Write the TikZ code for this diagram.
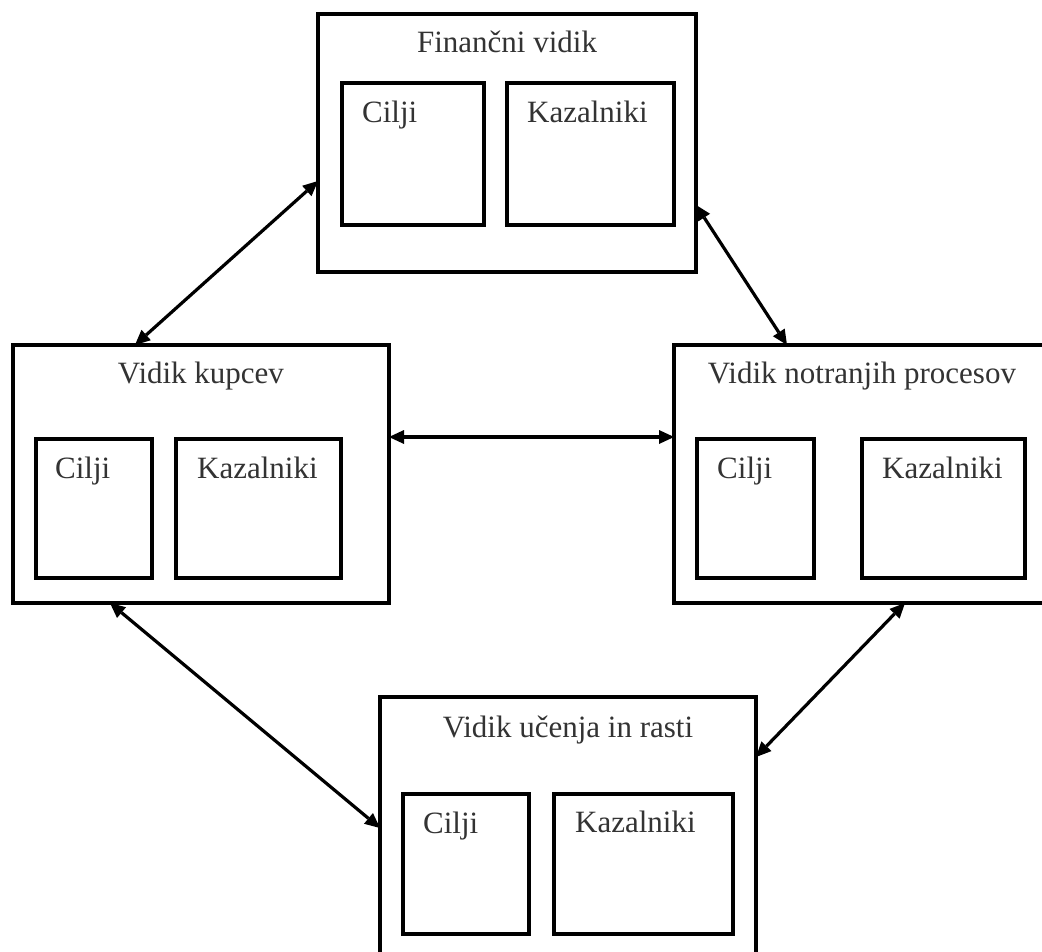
\documentclass[tikz,border=0pt]{standalone}
\usepackage{fontspec}
\setmainfont{Liberation Serif}
\usetikzlibrary{calc,arrows.meta}

\tikzset{
  panel/.style={draw, line width=3.4pt, rectangle, inner sep=0pt, outer sep=0pt},
  subpanel/.style={draw, line width=3.6pt, rectangle, inner sep=0pt, outer sep=0pt},
  heading/.style={anchor=base, inner sep=0pt, text=black!80, font=\fontsize{31}{36}\selectfont},
  itemlabel/.style={anchor=base west, inner sep=0pt, text=black!80, font=\fontsize{31}{36}\selectfont},
  tipshape/.tip={Triangle[length=15pt,width=14pt,line width=0pt]},
  link/.style={line width=3.2pt, tipshape-tipshape},
}

\begin{document}
\begin{tikzpicture}[x=1pt,y=-1pt]
  \useasboundingbox (0,0) rectangle (1042,952);
  \clip (0,0) rectangle (1042,952);
  \fill[white] (0,0) rectangle (1042,952);

  % outer perspective panels
  \node[panel, minimum width=378pt, minimum height=258pt] (fin) at (507,143) {};
  \node[panel, minimum width=376pt, minimum height=258pt] (kup) at (201,474) {};
  \node[panel, minimum width=400pt, minimum height=258pt] (proc) at (874,474) {};
  \node[panel, minimum width=376pt, minimum height=300pt] (uc) at (568,847) {};

  % financial perspective
  \node[heading] (finT) at (507,53) {Finančni vidik};
  \node[subpanel, minimum width=142pt, minimum height=142pt] (finC) at (413,154) {};
  \node[subpanel, minimum width=167pt, minimum height=142pt] (finK) at (590.5,154) {};
  \node[itemlabel] (finCt) at (362,123) {Cilji};
  \node[itemlabel] (finKt) at (527,123) {Kazalniki};

  % customer perspective
  \node[heading] (kupT) at (201,383) {Vidik kupcev};
  \node[subpanel, minimum width=116pt, minimum height=139pt] (kupC) at (94,508.5) {};
  \node[subpanel, minimum width=165pt, minimum height=139pt] (kupK) at (258.5,508.5) {};
  \node[itemlabel] (kupCt) at (55,478) {Cilji};
  \node[itemlabel] (kupKt) at (197,478) {Kazalniki};

  % internal process perspective
  \node[heading] (procT) at (862,383) {Vidik notranjih procesov};
  \node[subpanel, minimum width=117pt, minimum height=139pt] (procC) at (755.5,508.5) {};
  \node[subpanel, minimum width=163pt, minimum height=139pt] (procK) at (943.5,508.5) {};
  \node[itemlabel] (procCt) at (717,478) {Cilji};
  \node[itemlabel] (procKt) at (882,478) {Kazalniki};

  % learning and growth perspective
  \node[heading] (ucT) at (568,737) {Vidik učenja in rasti};
  \node[subpanel, minimum width=126pt, minimum height=140pt] (ucC) at (466,864) {};
  \node[subpanel, minimum width=179pt, minimum height=140pt] (ucK) at (643.5,864) {};
  \node[itemlabel] (ucCt) at (423,833) {Cilji};
  \node[itemlabel] (ucKt) at (575,832) {Kazalniki};

  % links between perspectives
  \draw[link] ($(kup.north west)+(122,0)$) -- ($(fin.north west)+(0,167)$);
  \draw[link] ($(fin.north east)+(0,191)$) -- ($(proc.north west)+(113,0)$);
  \draw[link] ($(kup.north east)+(0,92)$) -- ($(proc.north west)+(0,92)$);
  \draw[link] ($(kup.south west)+(97,0)$) -- ($(uc.north west)+(0,131)$);
  \draw[link] ($(proc.south west)+(231,0)$) -- ($(uc.north east)+(0,60)$);
\end{tikzpicture}
\end{document}
